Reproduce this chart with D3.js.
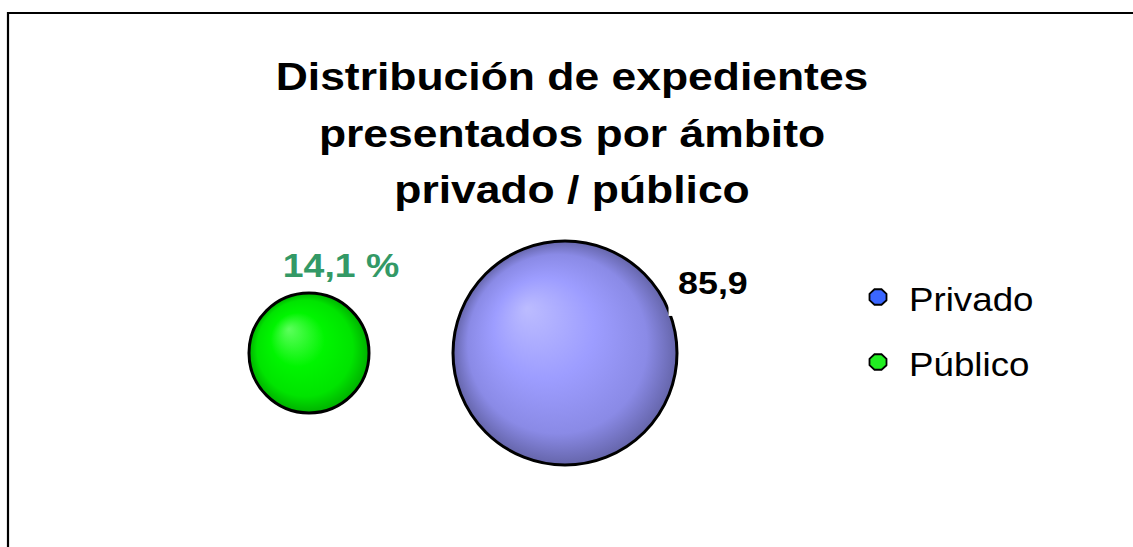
<!DOCTYPE html>
<html>
<head>
<meta charset="utf-8">
<script src="https://cdn.jsdelivr.net/npm/d3@7"></script>
<style>
  html, body { margin: 0; padding: 0; background: #fff; }
  svg { display: block; }
  text { font-family: Arial, "Liberation Sans", sans-serif; }
</style>
</head>
<body>
<svg id="chart" width="1133" height="547"></svg>
<script>
// ---- data ----
const categories = ["Público", "Privado"];
const xValues = [1, 2];
const yValues = [1, 1];
const bubbleValues = [14.1, 85.9];
const bubbleLabels = ["14,1 %", "85,9"];
const legendLabels = ["Privado", "Público"];
const titleLines = ["Distribución de expedientes", "presentados por ámbito", "privado / público"];

const svg = d3.select("#chart");
const W = 1133, H = 547;
const SX = 1.12; // horizontal text stretch of the original

// frame
svg.append("path").attr("d", `M8,${H} V13 H${W}`)
  .attr("fill", "none").attr("stroke", "#000").attr("stroke-width", 2.2);

// gradients
const defs = svg.append("defs");
function radial(id, stops) {
  const g = defs.append("radialGradient").attr("id", id)
    .attr("cx", "50%").attr("cy", "50%").attr("r", "50%")
    .attr("fx", "33%").attr("fy", "30%");
  stops.forEach(s => g.append("stop").attr("offset", s[0]).attr("stop-color", s[1]));
}
radial("gPriv", [[0, "#bcbcff"], [0.45, "#9d9dff"], [0.8, "#8a8ae6"], [1, "#6565aa"]]);
radial("gPub", [[0, "#5cff5c"], [0.45, "#00f500"], [0.8, "#00e400"], [1, "#00b000"]]);
const fills = { "Privado": "url(#gPriv)", "Público": "url(#gPub)" };
const legendColors = { "Privado": "#3a66ff", "Público": "#22ee22" };

// scales
const x = d3.scaleLinear().domain([0, 3]).range([53, 821]);
const y = d3.scaleLinear().domain([0, 2]).range([707, -1]);
const r = d3.scaleLinear().domain([0, 85.9]).range([49.8, 112]);

// title
const title = svg.append("g");
titleLines.forEach((t, i) => {
  title.append("text")
    .attr("transform", `translate(572,${90 + i * 56.5}) scale(1.14,1)`)
    .attr("text-anchor", "middle")
    .attr("font-size", 39).attr("font-weight", "bold").attr("fill", "#000")
    .text(t);
});

// bubbles
const data = categories.map((c, i) => ({ c, x: xValues[i], y: yValues[i], v: bubbleValues[i], label: bubbleLabels[i] }));
svg.append("g").selectAll("circle").data(data).join("circle")
  .attr("cx", d => x(d.x)).attr("cy", d => y(d.y)).attr("r", d => r(d.v))
  .attr("fill", d => fills[d.c]).attr("stroke", "#000").attr("stroke-width", 3);

// labels
const pub = data[0], priv = data[1];
svg.append("text")
  .attr("transform", `translate(${x(pub.x) + 32},${y(pub.y) - r(pub.v) - 16}) scale(1.1,1)`)
  .attr("text-anchor", "middle")
  .attr("font-size", 34).attr("font-weight", "bold").attr("fill", "#339966")
  .text(pub.label);

const px = x(priv.x) + r(priv.v) * 0.92, py = y(priv.y) - r(priv.v) * 0.34;
svg.append("rect").attr("x", px + 0.5).attr("y", py - 60).attr("width", 88).attr("height", 61).attr("fill", "#fff");
svg.append("text")
  .attr("transform", `translate(${px + 10},${py - 21}) scale(${SX},1)`)
  .attr("font-size", 32).attr("font-weight", "bold").attr("fill", "#000")
  .text(priv.label);

// legend
const oct = d3.range(8).map(k => {
  const a = Math.PI / 8 + k * Math.PI / 4;
  return [9.2 * Math.cos(a), 8.4 * Math.sin(a)];
});
const lg = svg.append("g").selectAll("g").data(legendLabels).join("g")
  .attr("transform", (d, i) => `translate(878,${297 + i * 65})`);
lg.append("polygon").attr("points", oct.map(p => p.join(",")).join(" "))
  .attr("fill", d => legendColors[d]).attr("stroke", "#000").attr("stroke-width", 1.8);
lg.append("text")
  .attr("transform", `translate(31,14) scale(1.08,1)`)
  .attr("font-size", 34).attr("fill", "#000")
  .text(d => d);
</script>
</body>
</html>
